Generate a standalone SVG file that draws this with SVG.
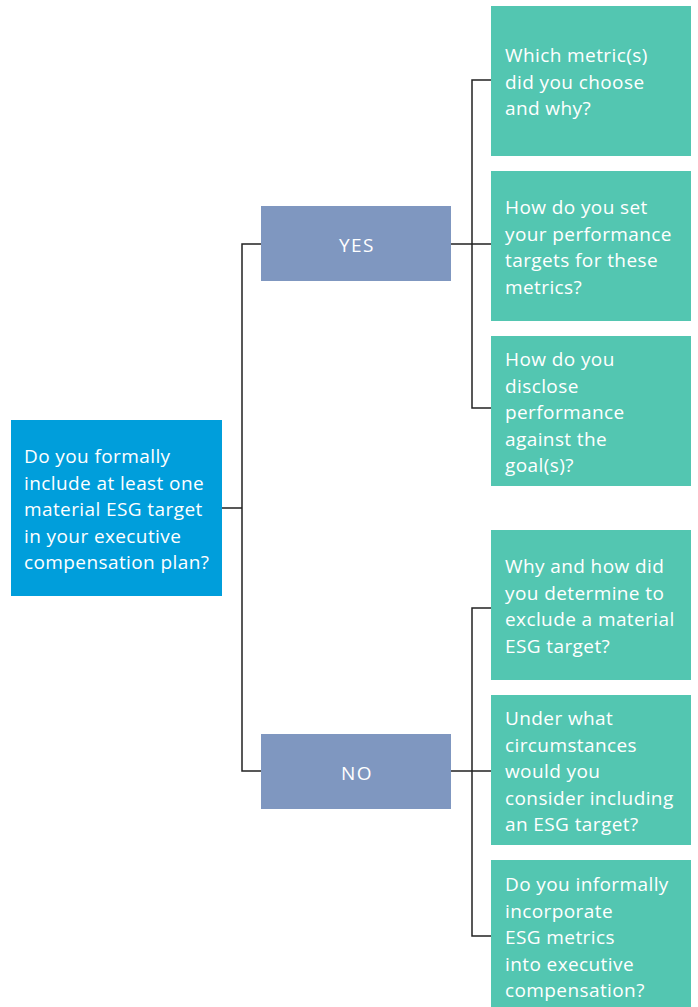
<svg xmlns="http://www.w3.org/2000/svg" width="698" height="1007" viewBox="0 0 698 1007">
<style>
.q{fill:#009edb}
.yn{fill:#7f97c0}
.t{fill:#53c6b1}
text{font-family:"Open Sans","Liberation Sans",sans-serif;font-size:19px;letter-spacing:0.4px;fill:#ffffff}
.c{text-anchor:middle;letter-spacing:1.5px}
.ln{fill:none;stroke:#222;stroke-width:1.5}
</style>
<rect width="698" height="1007" fill="#ffffff"/>
<g id="connectors">
<path class="ln" d="M222 508 H242 M261 244 H242 V771 H261"/>
<path class="ln" d="M451 244 H491 M491 80 H472 V408 H491"/>
<path class="ln" d="M451 771 H491 M491 608 H472 V936 H491"/>
</g>
<g id="question">
<rect class="q" x="11" y="420" width="211" height="176"/>
<text x="24" y="463">Do you formally</text>
<text x="24" y="489.5">include at least one</text>
<text x="24" y="516">material ESG target</text>
<text x="24" y="542.5">in your executive</text>
<text x="24" y="569">compensation plan?</text>
</g>
<g id="yes">
<rect class="yn" x="261" y="206" width="190" height="75"/>
<text class="c" x="357" y="252">YES</text>
</g>
<g id="no">
<rect class="yn" x="261" y="734" width="190" height="75"/>
<text class="c" x="357" y="780">NO</text>
</g>
<g id="yes1">
<rect class="t" x="491" y="6" width="200" height="150"/>
<text x="505" y="62">Which metric(s)</text>
<text x="505" y="88.5">did you choose</text>
<text x="505" y="115">and why?</text>
</g>
<g id="yes2">
<rect class="t" x="491" y="171" width="200" height="150"/>
<text x="505" y="214">How do you set</text>
<text x="505" y="240.5">your performance</text>
<text x="505" y="267">targets for these</text>
<text x="505" y="293.5">metrics?</text>
</g>
<g id="yes3">
<rect class="t" x="491" y="336" width="200" height="150"/>
<text x="505" y="366">How do you</text>
<text x="505" y="392.5">disclose</text>
<text x="505" y="419">performance</text>
<text x="505" y="445.5">against the</text>
<text x="505" y="472">goal(s)?</text>
</g>
<g id="no1">
<rect class="t" x="491" y="530" width="200" height="150"/>
<text x="505" y="573">Why and how did</text>
<text x="505" y="599.5">you determine to</text>
<text x="505" y="626">exclude a material</text>
<text x="505" y="652.5">ESG target?</text>
</g>
<g id="no2">
<rect class="t" x="491" y="695" width="200" height="150"/>
<text x="505" y="725">Under what</text>
<text x="505" y="751.5">circumstances</text>
<text x="505" y="778">would you</text>
<text x="505" y="804.5">consider including</text>
<text x="505" y="831">an ESG target?</text>
</g>
<g id="no3">
<rect class="t" x="491" y="860" width="200" height="147"/>
<text x="505" y="891">Do you informally</text>
<text x="505" y="917.5">incorporate</text>
<text x="505" y="944">ESG metrics</text>
<text x="505" y="970.5">into executive</text>
<text x="505" y="997">compensation?</text>
</g>
</svg>
